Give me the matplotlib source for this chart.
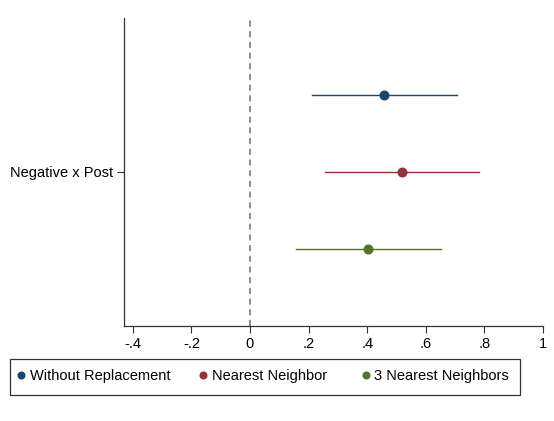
import matplotlib
matplotlib.use("Agg")
import matplotlib.pyplot as plt
from matplotlib.lines import Line2D
from matplotlib.patches import Rectangle

plt.rcParams['font.family'] = ['Liberation Sans', 'DejaVu Sans']

# coefficient estimates and 95% confidence bounds
models = ["Without Replacement", "Nearest Neighbor", "3 Nearest Neighbors"]
coef = [0.457, 0.519, 0.403]
ci_low = [0.212, 0.256, 0.157]
ci_high = [0.706, 0.782, 0.652]
colors = ["#1a476f", "#90353b", "#55752f"]
offsets = [0.5, 0.0, -0.5]
term = "Negative x Post"
xticks = [-0.4, -0.2, 0, 0.2, 0.4, 0.6, 0.8, 1.0]
xticklabels = ["-.4", "-.2", "0", ".2", ".4", ".6", ".8", "1"]

W, H = 554, 421
fig = plt.figure(figsize=(W / 100, H / 100), dpi=100)
ax = fig.add_axes([124 / W, 95 / H, (543 - 124) / W, (326 - 18) / H])

ax.axvline(0, color="#707070", lw=1.1, ls=(0, (4, 3)), zorder=1)
for c, lo, hi, col, off in zip(coef, ci_low, ci_high, colors, offsets):
    ax.plot([lo, hi], [off, off], color=col, lw=1.0, zorder=2)
    ax.plot(c, off, "o", color=col, ms=6.2, zorder=3)

ax.set_xlim(-0.43, 1.0)
ax.set_ylim(-1, 1)
ax.set_xticks(xticks)
ax.set_xticklabels(xticklabels)
ax.set_yticks([0])
ax.set_yticklabels([term])
ax.tick_params(axis="both", labelsize=10.5, length=5, width=0.8, color="#333333", pad=3)
for s in ["top", "right"]:
    ax.spines[s].set_visible(False)
for s in ["left", "bottom"]:
    ax.spines[s].set_linewidth(0.9)
    ax.spines[s].set_color("#333333")

# legend box below the plot, keys placed by hand (Stata-like uneven columns)
fig.patches.append(Rectangle((10 / W, (H - 395) / H), 510 / W, 36 / H,
                             transform=fig.transFigure, fill=False,
                             edgecolor="#333333", lw=0.9))
key_x = [21, 203, 366]
ky = (H - 376) / H
for x, name, col in zip(key_x, models, colors):
    fig.add_artist(Line2D([x / W], [ky + 1.5 / H], ls="none", marker="o", color=col, ms=4.8,
                          transform=fig.transFigure))
    fig.text((x + 8.5) / W, ky, name, fontsize=10.5, va="center", ha="left")

fig.savefig("out.png", dpi=100)
